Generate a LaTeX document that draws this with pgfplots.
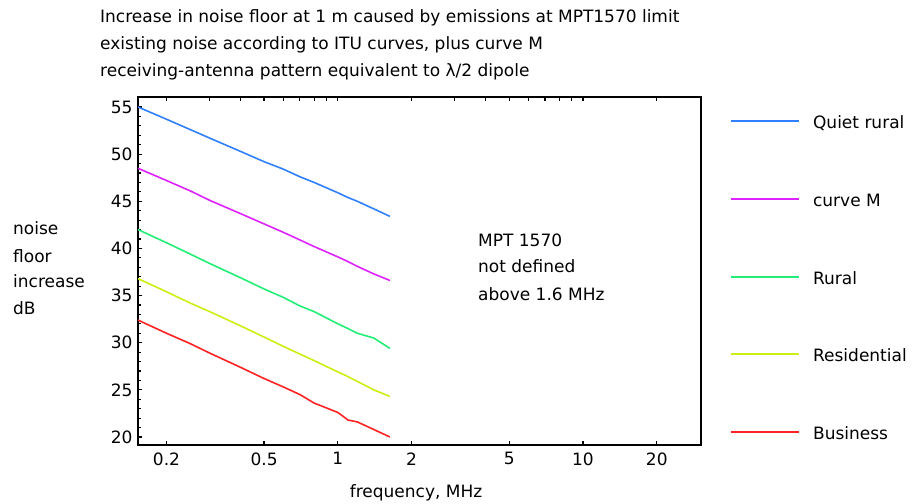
\documentclass[border=0pt]{standalone}
\usepackage{fontspec}
\setmainfont{DejaVu Sans}
\usepackage{pgfplots}
\pgfplotsset{compat=1.18}

\definecolor{cQuiet}{HTML}{2F7FFF}
\definecolor{cM}{HTML}{DD22FF}
\definecolor{cRural}{HTML}{22EE77}
\definecolor{cRes}{HTML}{CCEE11}
\definecolor{cBus}{HTML}{FF2222}

\newcommand{\lbl}{\fontsize{17}{20}\selectfont}

\begin{document}
\begin{tikzpicture}[x=1pt,y=1pt]
\path[use as bounding box] (0,0) rectangle (920,503);

\begin{axis}[
  at={(138pt,58pt)}, anchor=south west,
  scale only axis, width=563pt, height=348pt,
  xmode=log, xmin=0.153, xmax=30.3,
  ymin=19.15, ymax=56.06,
  xtick={0.2,0.5,1,2,5,10,20},
  xticklabels={0.2,0.5,1,2,5,10,20},
  xtick pos=bottom, ytick pos=left,
  log ticks with fixed point,
  ytick={20,25,...,55},
  minor y tick num=4,
  minor x tick num=0,
  xminorticks=false,
  tick align=inside,
  major tick length=4pt, minor tick length=3.5pt,
  every tick/.style={black, line width=1.2pt},
  axis line style={line width=1.8pt},
  tick label style={font=\lbl},
  /pgf/number format/assume math mode=true,
  xticklabel style={yshift=-4pt},
  yticklabel style={xshift=-2pt},
  legend style={
    draw=none, fill=none, font=\lbl,
    at={(axis description cs:1.046,0.953)}, anchor=north west,
    row sep=60.8pt, column sep=13pt,
    nodes={inner sep=0pt, text height=13pt, text depth=4pt},
  },
  legend cell align=left,
  legend image code/.code={\draw[#1, line width=2pt] (0pt,3pt) -- (68pt,3pt);},
  legend image post style={line width=2pt},
  every axis plot/.append style={line width=1.6pt},
]
\addplot[cQuiet] coordinates {
  (0.153,55.0) (0.2,53.7) (0.25,52.6) (0.3,51.7) (0.4,50.3) (0.5,49.2)
  (0.6,48.4) (0.7,47.6) (0.8,47.0) (1.0,45.9) (1.1,45.4) (1.2,45.0)
  (1.4,44.2) (1.63,43.4)};
\addlegendentry{Quiet rural}
\addplot[cM] coordinates {
  (0.153,48.5) (0.2,47.2) (0.25,46.1) (0.3,45.1) (0.4,43.7) (0.5,42.6)
  (0.6,41.7) (0.7,40.9) (0.8,40.2) (1.0,39.1) (1.1,38.6) (1.2,38.1)
  (1.4,37.3) (1.63,36.6)};
\addlegendentry{curve M}
\addplot[cRural] coordinates {
  (0.153,42.0) (0.2,40.6) (0.25,39.4) (0.3,38.4) (0.4,36.9) (0.5,35.7)
  (0.6,34.8) (0.7,33.9) (0.8,33.3) (1.0,32.0) (1.1,31.5) (1.2,31.0)
  (1.4,30.5) (1.63,29.4)};
\addlegendentry{Rural}
\addplot[cRes] coordinates {
  (0.153,36.8) (0.2,35.4) (0.25,34.2) (0.3,33.3) (0.4,31.8) (0.5,30.6)
  (0.6,29.6) (0.7,28.8) (0.8,28.1) (1.0,26.9) (1.1,26.4) (1.2,25.9)
  (1.4,25.0) (1.63,24.3)};
\addlegendentry{Residential}
\addplot[cBus] coordinates {
  (0.153,32.4) (0.2,31.0) (0.25,29.9) (0.3,28.9) (0.4,27.4) (0.5,26.2)
  (0.6,25.3) (0.7,24.5) (0.8,23.6) (1.0,22.6) (1.1,21.8) (1.2,21.6)
  (1.4,20.8) (1.63,20.0)};
\addlegendentry{Business}
\end{axis}

% top edge carries the full set of log ticks
\begin{axis}[
  at={(138pt,58pt)}, anchor=south west,
  scale only axis, width=563pt, height=348pt,
  xmode=log, xmin=0.153, xmax=30.3,
  ymin=19.15, ymax=56.06,
  axis line style={draw=none},
  xtick pos=top, ytick=\empty,
  xtick={0.2,0.3,0.4,0.5,0.6,0.7,0.8,0.9,1,2,3,4,5,6,7,8,9,10,20},
  xticklabels={},
  xminorticks=false,
  tick align=inside,
  major tick length=4pt,
  every tick/.style={black, line width=1.2pt},
]
\end{axis}

\begin{scope}[font=\lbl]
  \node[anchor=base west, inner sep=0] at (100,480) {Increase in noise floor at 1 m caused by emissions at MPT1570 limit};
  \node[anchor=base west, inner sep=0] at (100,453) {existing noise according to ITU curves, plus curve M};
  \node[anchor=base west, inner sep=0] at (100,426) {receiving-antenna pattern equivalent to λ/2 dipole};

  \node[anchor=base west, inner sep=0] at (13,268) {noise};
  \node[anchor=base west, inner sep=0] at (13,240) {floor};
  \node[anchor=base west, inner sep=0] at (13,215) {increase};
  \node[anchor=base west, inner sep=0] at (13,188) {dB};

  \node[anchor=base, inner sep=0] at (416,6) {frequency, MHz};

  \node[anchor=base west, inner sep=0] at (478,256) {MPT 1570};
  \node[anchor=base west, inner sep=0] at (478,230) {not defined};
  \node[anchor=base west, inner sep=0] at (478,202) {above 1.6 MHz};
\end{scope}
\end{tikzpicture}
\end{document}
